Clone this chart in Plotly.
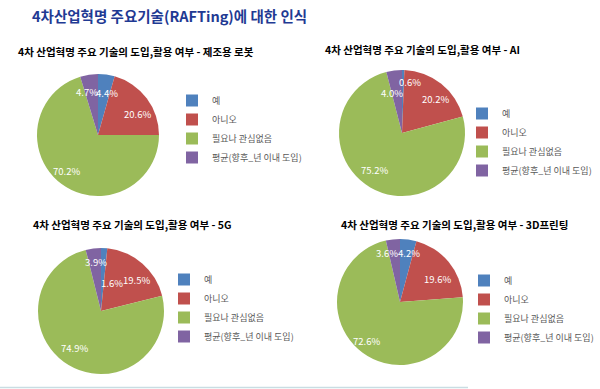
import math
import plotly.graph_objects as go

W, H = 600, 389

main_title = "4차산업혁명 주요기술(RAFTing)에 대한 인식"
labels = ["예", "아니오", "필요나 관심없음", "평균(향후_년 이내 도입)"]
colors = ["#4F81BD", "#C0504D", "#9BBB59", "#8064A2"]

titles = [
    "4차 산업혁명 주요 기술의 도입,활용 여부 - 제조용 로봇",
    "4차 산업혁명 주요 기술의 도입,활용 여부 - AI",
    "4차 산업혁명 주요 기술의 도입,활용 여부 - 5G",
    "4차 산업혁명 주요 기술의 도입,활용 여부 - 3D프린팅",
]
robot_vals = [4.4, 20.6, 70.2, 4.7]
ai_vals = [0.6, 20.2, 75.2, 4.0]
g5_vals = [1.6, 19.5, 74.9, 3.9]
print3d_vals = [4.2, 19.6, 72.6, 3.6]
series = [robot_vals, ai_vals, g5_vals, print3d_vals]

# layout (pixels): pie centre/radius, title centre, legend left/top
pies = [(98, 135, 61), (402, 133, 63), (101, 311, 63), (400, 302, 63)]
title_pos = [(136, 52), (422, 50), (132, 224), (454, 224)]
legend_pos = [(172, 86), (462, 99), (164, 265), (464, 266)]
# data-label placement style: (angle shift in degrees, radius fraction) per slice
label_style = [
    [(4, 0.71), (9, 0.73), (5, 0.79), (-6, 0.72)],
    [(8, 0.82), (6, 0.75), (6, 0.73), (-7, 0.65)],
    [(18, 0.48), (8, 0.75), (4, 0.72), (1, 0.78)],
    [(3, 0.79), (8, 0.70), (4, 0.82), (-8, 0.80)],
]

FONT = "Noto Sans CJK KR"

fig = go.Figure()
legend_names = ["legend", "legend2", "legend3", "legend4"]
annotations = []
for i, vals in enumerate(series):
    cx, cy, r = pies[i]
    # zero-width suffix keeps each chart's legend entries separate
    lab = [l + "\u200b" * i for l in labels]
    fig.add_trace(go.Pie(
        labels=lab,
        values=vals,
        sort=False,
        direction="clockwise",
        rotation=0,
        marker=dict(colors=colors, line=dict(width=0)),
        textinfo="none",
        hoverinfo="label+value",
        domain=dict(x=[(cx - r) / W, (cx + r) / W], y=[1 - (cy + r) / H, 1 - (cy - r) / H]),
        legend=legend_names[i],
        showlegend=True,
    ))
    total = sum(vals)
    cum = 0.0
    for j, v in enumerate(vals):
        mid = (cum + v / 2) / total * 360.0
        cum += v
        dth, rf = label_style[i][j]
        th = math.radians(mid + dth)
        px = cx + rf * r * math.sin(th)
        py = cy - rf * r * math.cos(th)
        annotations.append(dict(
            text=f"{v:.1f}%", x=px / W, y=1 - py / H, xref="paper", yref="paper",
            xanchor="center", yanchor="middle", showarrow=False,
            font=dict(size=9.5, color="white", family=FONT),
        ))

annotations.append(dict(
    text="<b>" + main_title + "</b>", x=30 / W, y=1 - 16 / H, xref="paper", yref="paper",
    xanchor="left", yanchor="middle", showarrow=False,
    font=dict(size=14.5, color="#1F3A93", family=FONT),
))
for i, t in enumerate(titles):
    tx, ty = title_pos[i]
    annotations.append(dict(
        text="<b>" + t + "</b>", x=tx / W, y=1 - ty / H, xref="paper", yref="paper",
        xanchor="center", yanchor="middle", showarrow=False,
        font=dict(size=10.5, color="#000000", family=FONT),
    ))

layout_legends = {}
for i, name in enumerate(legend_names):
    lx, ly = legend_pos[i]
    layout_legends[name] = dict(
        x=lx / W, y=1 - ly / H, xanchor="left", yanchor="top",
        font=dict(size=9, color="#595959", family=FONT),
        bgcolor="rgba(0,0,0,0)", itemclick=False, itemdoubleclick=False,
    )

fig.update_layout(
    width=W, height=H,
    margin=dict(l=0, r=0, t=0, b=0),
    paper_bgcolor="white", plot_bgcolor="white",
    annotations=annotations,
    shapes=[dict(type="line", xref="paper", yref="paper", x0=0, x1=0.78,
                 y0=1.5 / H, y1=1.5 / H, line=dict(color="#C9DDE3", width=1.5))],
    **layout_legends,
)

fig.write_html("out.html", config={"displayModeBar": False},
               post_script="document.body.style.margin='0';")
